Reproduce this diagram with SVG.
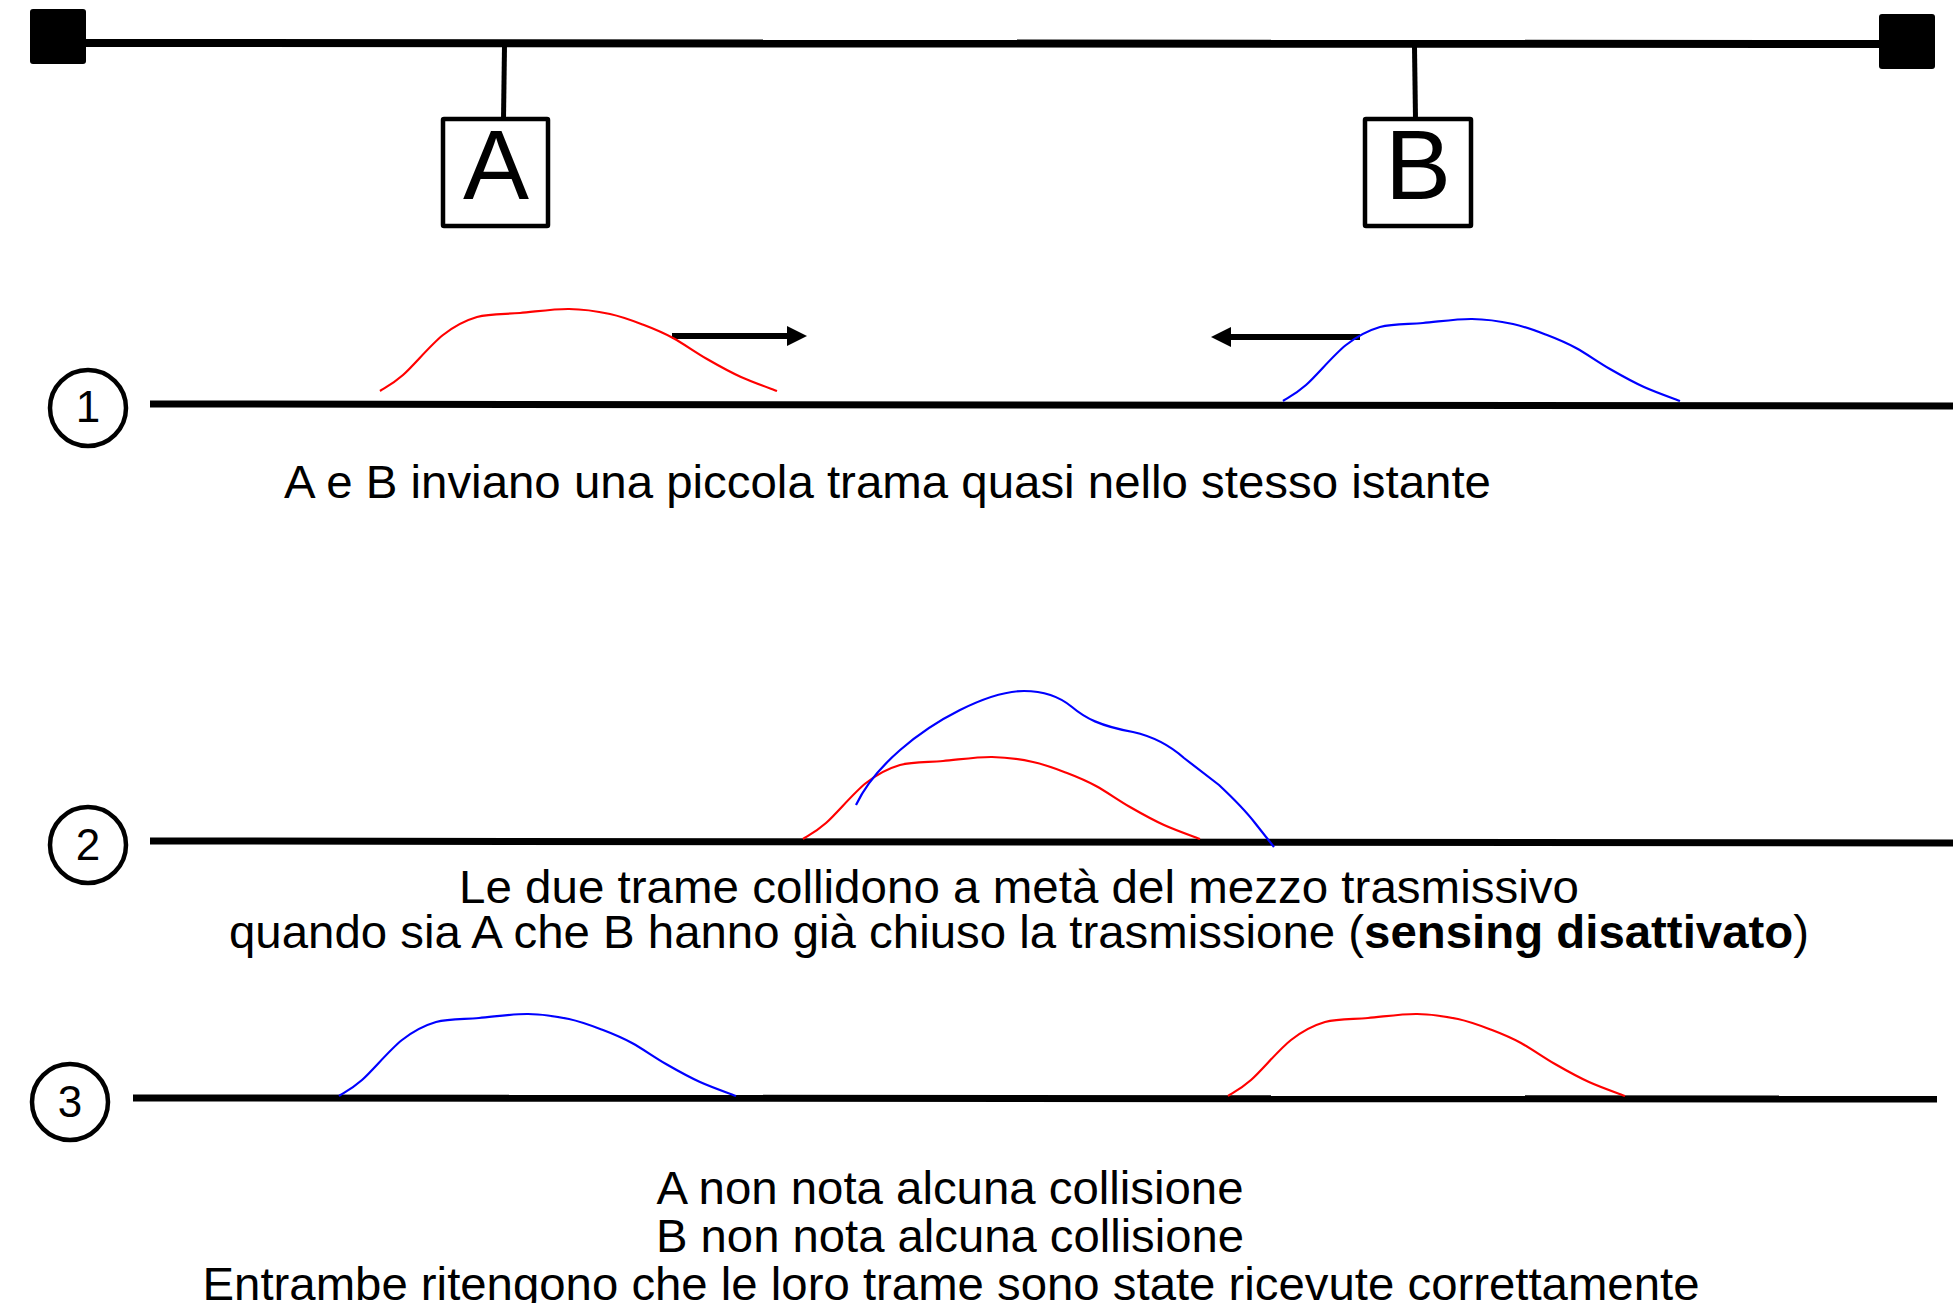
<svg xmlns="http://www.w3.org/2000/svg" xmlns:xlink="http://www.w3.org/1999/xlink" width="1953" height="1303" viewBox="0 0 1953 1303">
<style>
  .ln { stroke: #000; fill: none; }
  .bus { stroke-width: 8; }
  .row { stroke-width: 7; }
  .drop { stroke-width: 5; }
  .box { fill: #fff; stroke: #000; stroke-width: 4.5; }
  .cir { fill: #fff; stroke: #000; stroke-width: 4.5; }
  .term { fill: #000; }
  .big { font-family: "Liberation Sans", Arial, sans-serif; font-size: 99px; fill: #000; text-anchor: middle; }
  .num { font-family: "Liberation Sans", Arial, sans-serif; font-size: 44px; fill: #000; text-anchor: middle; }
  .txt { font-family: "Liberation Sans", Arial, sans-serif; font-size: 47px; fill: #000; text-anchor: middle; }
  .b { font-weight: bold; }
  .red { stroke: #ff0000; fill: none; stroke-width: 2.2; }
  .blue { stroke: #0000ff; fill: none; stroke-width: 2.2; }
  .arr { stroke: #000; stroke-width: 6; fill: none; marker-end: url(#ah); }
</style>
<defs>
  <marker id="ah" markerUnits="userSpaceOnUse" markerWidth="20" markerHeight="20" refX="0" refY="10" orient="auto" overflow="visible">
    <path d="M0,0 L20,10 L0,20 z" fill="#000"/>
  </marker>
  <path id="frame" d="M0,0 C3.8,-2.7 12.5,-6.7 23,-16 C33.5,-25.3 50.7,-46.3 63,-56 C75.3,-65.7 84.2,-70.3 97,-74 C109.8,-77.7 124.7,-76.7 140,-78 C155.3,-79.3 174,-82.2 189,-82 C204,-81.8 217.5,-79.7 230,-77 C242.5,-74.3 253.5,-70 264,-66 C274.5,-62 282.5,-58.7 293,-53 C303.5,-47.3 315.7,-38.5 327,-32 C338.3,-25.5 349.3,-19.3 361,-14 C372.7,-8.7 391,-2.3 397,0"/>
</defs>
<rect width="1953" height="1303" fill="#fff"/>

<g id="bus">
  <line class="ln bus" x1="86" y1="43" x2="1879" y2="44"/>
  <rect class="term" x="30" y="9" width="56" height="55" rx="3"/>
  <rect class="term" x="1879" y="14" width="56" height="55" rx="3"/>
</g>

<g id="connectors">
  <line class="ln drop" x1="504.5" y1="46" x2="503.5" y2="119"/>
  <line class="ln drop" x1="1414.5" y1="47" x2="1415.5" y2="119"/>
  <line class="arr" x1="672" y1="336" x2="787" y2="336"/>
  <line class="arr" x1="1360" y1="337" x2="1231" y2="337"/>
</g>

<g id="node-A">
  <rect class="box" x="443" y="119" width="105" height="107" rx="1"/>
  <text class="big" x="496" y="199">A</text>
</g>
<g id="node-B">
  <rect class="box" x="1365" y="119" width="106" height="107" rx="1"/>
  <text class="big" x="1418" y="199">B</text>
</g>

<g id="step-1">
  <line class="ln row" x1="150" y1="404" x2="1953" y2="406"/>
  <circle class="cir" cx="88" cy="408" r="38"/>
  <text class="num" x="88" y="422">1</text>
  <use xlink:href="#frame" class="red" transform="translate(380,391)"/>
  <use xlink:href="#frame" class="blue" transform="translate(1283,401)"/>
  <text class="txt" x="887.5" y="498" textLength="1207" lengthAdjust="spacingAndGlyphs">A e B inviano una piccola trama quasi nello stesso istante</text>
</g>

<g id="step-2">
  <line class="ln row" x1="150" y1="841" x2="1953" y2="843"/>
  <circle class="cir" cx="88" cy="845" r="38"/>
  <text class="num" x="88" y="860">2</text>
  <use xlink:href="#frame" class="red" transform="translate(803,839)"/>
  <path class="blue" d="M856,805 C875,765 920,730 960,710 C990,695 1010,691 1024,691 C1045,691 1060,697 1072,707 C1085,718 1100,726 1133,732 C1160,738 1175,750 1184,758 L1219,785 C1235,800 1245,810 1255,823 L1274,847"/>
  <text class="txt" x="1019" y="903" textLength="1120" lengthAdjust="spacingAndGlyphs">Le due trame collidono a metà del mezzo trasmissivo</text>
  <text class="txt" x="1019" y="948" textLength="1580" lengthAdjust="spacingAndGlyphs">quando sia A che B hanno già chiuso la trasmissione (<tspan class="b">sensing disattivato</tspan>)</text>
</g>

<g id="step-3">
  <line class="ln row" x1="133" y1="1098" x2="1937" y2="1099"/>
  <circle class="cir" cx="70" cy="1102" r="38"/>
  <text class="num" x="70" y="1117">3</text>
  <use xlink:href="#frame" class="blue" transform="translate(339,1096)"/>
  <use xlink:href="#frame" class="red" transform="translate(1228,1096)"/>
  <text class="txt" x="950" y="1204" textLength="587" lengthAdjust="spacingAndGlyphs">A non nota alcuna collisione</text>
  <text class="txt" x="950" y="1252" textLength="588" lengthAdjust="spacingAndGlyphs">B non nota alcuna collisione</text>
  <text class="txt" x="951" y="1300" textLength="1497" lengthAdjust="spacingAndGlyphs">Entrambe ritengono che le loro trame sono state ricevute correttamente</text>
</g>
</svg>
